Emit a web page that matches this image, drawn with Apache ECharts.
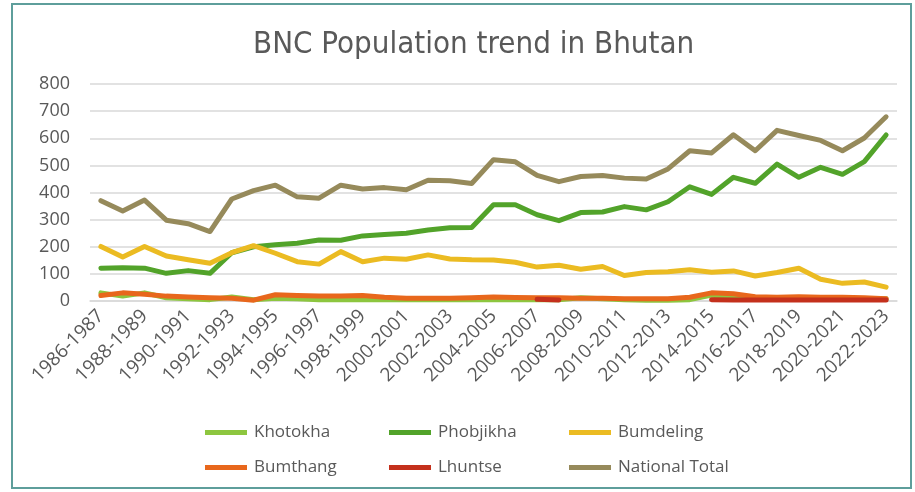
<!DOCTYPE html>
<html><head><meta charset="utf-8">
<script src="https://cdn.jsdelivr.net/npm/echarts@6/dist/echarts.min.js"></script>
<style>html,body{margin:0;padding:0;background:#fff}#c{width:915px;height:492px}</style>
</head><body><div id="c"></div>
<script>
const categories = ["1986-1987","1987-1988","1988-1989","1989-1990","1990-1991","1991-1992","1992-1993","1993-1994","1994-1995","1995-1996","1996-1997","1997-1998","1998-1999","1999-2000","2000-2001","2001-2002","2002-2003","2003-2004","2004-2005","2005-2006","2006-2007","2007-2008","2008-2009","2009-2010","2010-2011","2011-2012","2012-2013","2013-2014","2014-2015","2015-2016","2016-2017","2017-2018","2018-2019","2019-2020","2020-2021","2021-2022","2022-2023"];
const khotokha = [30,18,30,12,8,5,15,5,10,8,5,5,5,5,5,5,5,5,5,5,5,5,12,8,5,3,3,5,22,10,8,6,8,6,6,6,8];
const phobjikha = [121,123,121,102,112,102,178,200,207,213,225,224,240,245,250,262,270,271,355,355,318,296,326,328,348,336,366,421,393,456,434,505,456,493,467,514,612];
const bumdeling = [201,162,201,166,152,139,178,204,176,145,136,182,145,158,154,170,155,152,151,143,125,132,117,127,94,105,108,115,106,111,92,105,121,80,65,70,51];
const bumthang = [20,30,25,18,15,12,10,3,23,20,18,18,20,14,10,10,10,12,15,13,12,12,10,10,8,8,8,14,30,27,16,14,16,14,14,12,8];
const lhuntse = [null,null,null,null,null,null,null,null,null,null,null,null,null,null,null,null,null,null,null,null,6,4,null,null,null,null,null,null,5,4,4,4,4,4,4,4,4];
const nationalTotal = [370,332,372,298,285,256,376,407,427,384,379,427,413,418,410,445,443,433,521,513,463,440,459,463,453,450,487,554,546,613,554,629,610,592,554,601,679];
const yTicks = [0,100,200,300,400,500,600,700,800];

const seriesDefs = [
  {name:"Khotokha", data:khotokha, color:"#8DC63F"},
  {name:"Phobjikha", data:phobjikha, color:"#52A32A"},
  {name:"Bumdeling", data:bumdeling, color:"#EBBB22"},
  {name:"Bumthang", data:bumthang, color:"#E8671C"},
  {name:"Lhuntse", data:lhuntse, color:"#C4301C"},
  {name:"National Total", data:nationalTotal, color:"#968A5B"}
];
const FONT = "Open Sans";
const legendCommon = {
  orient:'vertical', itemGap:18, itemWidth:42, itemHeight:5, icon:'rect',
  textStyle:{fontFamily:FONT, fontSize:17, color:'#595959', padding:[0,0,0,2]}
};
const chart = echarts.init(document.getElementById('c'), null, {renderer:'canvas'});
chart.setOption({
  backgroundColor:'#fff',
  animation:false,
  title:{text:'BNC Population trend in Bhutan', left:248, top:24,
    textStyle:{fontFamily:"'DejaVu Sans Condensed', 'Open Sans'", fontWeight:'normal', fontSize:31, color:'#595959'}},
  graphic:[{type:'rect', shape:{x:12,y:4,width:899,height:484}, style:{fill:'none', stroke:'#5E9E9B', lineWidth:2}, silent:true, z:-1}],
  legend:[
    Object.assign({left:200, top:419, data:["Khotokha","Bumthang"]}, legendCommon),
    Object.assign({left:384, top:419, data:["Phobjikha","Lhuntse"]}, legendCommon),
    Object.assign({left:564, top:419, data:["Bumdeling","National Total"]}, legendCommon)
  ],
  grid:{left:90, right:18, top:84, bottom:191, containLabel:false},
  xAxis:{type:'category', data:categories, boundaryGap:true,
    axisLine:{show:true, lineStyle:{color:'#D9D9D9', width:1.5}},
    axisTick:{show:false},
    axisLabel:{interval:1, rotate:45, fontFamily:FONT, fontSize:19, color:'#595959', margin:12}},
  yAxis:{type:'value', min:0, max:800, interval:100,
    axisLine:{show:false}, axisTick:{show:false},
    axisLabel:{fontFamily:FONT, fontSize:18, color:'#595959', margin:20,
      formatter:function(v){return yTicks.indexOf(v)>=0?String(v):'';}},
    splitLine:{lineStyle:{color:'#D9D9D9', width:1.5}}},
  series: seriesDefs.map(s=>({
    name:s.name, type:'line', data:s.data, symbol:'none', smooth:false,
    connectNulls:false, color:s.color,
    lineStyle:{width:5, color:s.color, cap:'round', join:'round'},
    itemStyle:{color:s.color}
  }))
});
</script></body></html>
